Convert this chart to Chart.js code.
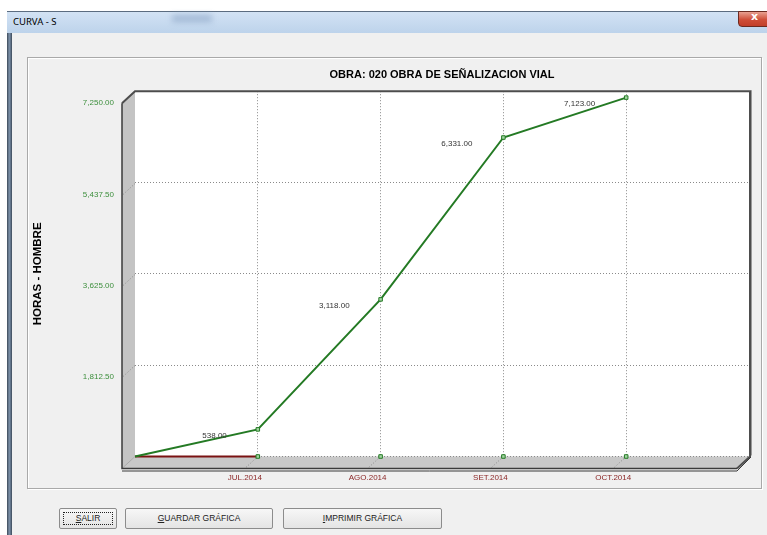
<!DOCTYPE html>
<html>
<head>
<meta charset="utf-8">
<title>CURVA - S</title>
<script src="https://cdn.jsdelivr.net/npm/chart.js@4.4.1/dist/chart.umd.min.js"></script>
<style>
  html, body { margin: 0; padding: 0; width: 767px; height: 535px; overflow: hidden; background: #ffffff; }
  #win { position: absolute; left: 7px; top: 11px; width: 780px; height: 540px; background: #f0f0f0; }
  #edgeLeft { position: absolute; left: 7px; top: 11px; width: 5px; height: 540px;
    background: linear-gradient(to right, #3b4857, #7d92aa 45%, #5d6f85 75%, #3b4857); }
  #titlebar { position: absolute; left: 7px; top: 11px; width: 780px; height: 22px; box-sizing: border-box;
    border-top: 1px solid #5b6c80; background: linear-gradient(#d2e2f4, #bdd3eb); }
  #smudge { position: absolute; left: 172px; top: 15px; width: 40px; height: 7px; background: #8fa8c8;
    filter: blur(3px); opacity: 0.7; }
  #titletext { position: absolute; left: 13px; top: 15px; font: 9.5px "Noto Sans", sans-serif; color: #000; line-height: 14px; }
  #close { position: absolute; left: 738px; top: 11px; width: 42px; height: 16px; box-sizing: border-box;
    border: 1px solid #6d2a20; border-radius: 0 0 4px 4px;
    background: linear-gradient(#e8a090, #cf4e38 55%, #c23f2a); }
  #closeX { position: absolute; left: 751px; top: 10px; font: bold 11px "DejaVu Sans", sans-serif; color: #fff; }
  #frame { position: absolute; left: 27px; top: 57px; width: 735px; height: 432px; box-sizing: border-box;
    border: 1px solid #a9a9a9; box-shadow: 1px 1px 0 #ffffff, inset 1px 1px 0 #ffffff; }
  #chartBox { position: absolute; left: 28px; top: 58px; width: 732px; height: 429px; }
  .btn { position: absolute; top: 508px; height: 21px; box-sizing: border-box; border: 1px solid #8c8c8c;
    border-radius: 2px; background: linear-gradient(#f7f7f7, #e4e4e4);
    font: 8.5px "Liberation Sans", Arial, sans-serif; color: #222; text-align: center; line-height: 19px; }
  .btn u { text-decoration: underline; }
  #focusRing { position: absolute; left: 3px; top: 3px; right: 3px; bottom: 3px; border: 1px dotted #222; }
</style>
</head>
<body>
<div id="win"></div>
<div id="edgeLeft"></div>
<div id="titlebar"></div>
<div id="smudge"></div>
<div id="titletext">CURVA - S</div>
<div id="close"></div>
<div id="closeX">x</div>
<div id="frame"></div>
<div id="chartBox"><canvas id="curva" width="732" height="429"></canvas></div>
<div class="btn" style="left:59px;width:58px;"><div id="focusRing"></div><u>S</u>ALIR</div>
<div class="btn" style="left:125px;width:148px;"><u>G</u>UARDAR GRÁFICA</div>
<div class="btn" style="left:283px;width:159px;"><u>I</u>MPRIMIR GRÁFICA</div>

<script>
// Periods on the horizontal axis (first and last slots are the axis ends)
const categories = ['', 'JUL.2014', 'AGO.2014', 'SET.2014', 'OCT.2014', ''];
// Accumulated man-hours per period
const horasAcumuladas = [0, 538, 3118, 6331, 7123];
// Zero baseline series
const lineaBase = [0, 0, 0, 0, 0];
// Value axis ticks
const yTicks = [0, 1812.5, 3625, 5437.5, 7250];

const FONT = '"Liberation Sans", Arial, sans-serif';
const DEPTH_X = 13, DEPTH_Y = 12;

function fmt(v) {
  const fixed = Math.abs(v).toFixed(2);
  const [ent, dec] = fixed.split('.');
  const withSep = ent.replace(/\B(?=(\d{3})+(?!\d))/g, ',');
  return (v < 0 ? '-' : '') + withSep + '.' + dec;
}

// Grey side wall, floor and frame of the 3D box
const box3d = {
  id: 'box3d',
  beforeDraw(chart) {
    const { ctx, chartArea: a } = chart;
    ctx.save();
    ctx.fillStyle = '#ffffff';
    ctx.fillRect(a.left, a.top, a.right - a.left, a.bottom - a.top);
    // left wall
    ctx.fillStyle = '#c4c4c4';
    ctx.beginPath();
    ctx.moveTo(a.left, a.top);
    ctx.lineTo(a.left - DEPTH_X, a.top + DEPTH_Y);
    ctx.lineTo(a.left - DEPTH_X, a.bottom + DEPTH_Y);
    ctx.lineTo(a.left, a.bottom);
    ctx.closePath();
    ctx.fill();
    // floor
    ctx.fillStyle = '#c8c8c8';
    ctx.beginPath();
    ctx.moveTo(a.left, a.bottom);
    ctx.lineTo(a.right, a.bottom);
    ctx.lineTo(a.right - DEPTH_X, a.bottom + DEPTH_Y);
    ctx.lineTo(a.left - DEPTH_X, a.bottom + DEPTH_Y);
    ctx.closePath();
    ctx.fill();
    ctx.restore();
  },
  beforeDatasetsDraw(chart) {
    const { ctx, chartArea: a, scales } = chart;
    ctx.save();
    // dotted extensions of the grid across wall and floor
    ctx.strokeStyle = '#8a8a8a';
    ctx.lineWidth = 1;
    ctx.setLineDash([1, 2]);
    yTicks.slice(1, -1).forEach(v => {
      const y = Math.round(scales.y.getPixelForValue(v)) + 0.5;
      ctx.beginPath();
      ctx.moveTo(a.left, y);
      ctx.lineTo(a.left - DEPTH_X, y + DEPTH_Y);
      ctx.stroke();
    });
    for (let i = 1; i < categories.length - 1; i++) {
      const x = scales.x.getPixelForValue(i);
      ctx.beginPath();
      ctx.moveTo(x, a.bottom);
      ctx.lineTo(x - DEPTH_X, a.bottom + DEPTH_Y);
      ctx.stroke();
    }
    ctx.setLineDash([]);
    // wall / floor seam
    ctx.strokeStyle = '#a8a8a8';
    ctx.beginPath();
    ctx.moveTo(a.left, a.bottom);
    ctx.lineTo(a.left - DEPTH_X, a.bottom + DEPTH_Y);
    ctx.stroke();
    // back wall top and right edges
    ctx.strokeStyle = '#4d4d4d';
    ctx.lineWidth = 2;
    ctx.beginPath();
    ctx.moveTo(a.left - DEPTH_X, a.top + DEPTH_Y);
    ctx.lineTo(a.left, a.top);
    ctx.lineTo(a.right + 1, a.top);
    ctx.lineTo(a.right + 1, a.bottom);
    ctx.lineTo(a.right + 1 - DEPTH_X, a.bottom + DEPTH_Y);
    ctx.stroke();
    ctx.strokeStyle = '#9a9a9a';
    ctx.lineWidth = 1;
    ctx.beginPath();
    ctx.moveTo(a.right + 2.5, a.top - 1);
    ctx.lineTo(a.right + 2.5, a.bottom - 1);
    ctx.stroke();
    // front edges
    ctx.strokeStyle = '#3a3a3a';
    ctx.lineWidth = 1.5;
    ctx.beginPath();
    ctx.moveTo(a.left - DEPTH_X, a.top + DEPTH_Y);
    ctx.lineTo(a.left - DEPTH_X, a.bottom + DEPTH_Y);
    ctx.lineTo(a.right + 1 - DEPTH_X, a.bottom + DEPTH_Y);
    ctx.stroke();
    ctx.lineWidth = 1;
    ctx.beginPath();
    ctx.moveTo(a.left - DEPTH_X, a.bottom + DEPTH_Y + 2.5);
    ctx.lineTo(a.right + 1 - DEPTH_X, a.bottom + DEPTH_Y + 2.5);
    ctx.lineTo(a.right + 2 , a.bottom + 0.5);
    ctx.stroke();
    ctx.restore();
  }
};

// Value labels beside each point of the accumulated curve
const valueLabels = {
  id: 'valueLabels',
  afterDatasetsDraw(chart) {
    const { ctx } = chart;
    const meta = chart.getDatasetMeta(0);
    ctx.save();
    ctx.font = '8px ' + FONT;
    ctx.fillStyle = '#333333';
    ctx.textAlign = 'right';
    ctx.textBaseline = 'middle';
    horasAcumuladas.forEach((v, i) => {
      if (i === 0) return;
      const p = meta.data[i];
      ctx.fillText(fmt(v), p.x - 31, p.y + 6.5);
    });
    ctx.restore();
  }
};

const markerRadius = ctx => (ctx.dataIndex === 0 ? 0 : 2.5);

new Chart(document.getElementById('curva'), {
  type: 'line',
  data: {
    labels: categories,
    datasets: [
      {
        label: 'Horas - Hombre',
        data: horasAcumuladas,
        borderColor: '#247a24',
        borderWidth: 2,
        tension: 0,
        pointStyle: 'rect',
        pointRadius: markerRadius,
        pointBorderColor: '#247a24',
        pointBackgroundColor: '#a3d6a3',
        pointBorderWidth: 1,
        clip: false
      },
      {
        label: 'Base',
        data: lineaBase,
        borderColor: '#7a1212',
        borderWidth: 2,
        tension: 0,
        segment: {
          borderColor: ctx => (ctx.p0DataIndex === 0 ? '#7a1212' : 'rgba(0,0,0,0)')
        },
        pointStyle: 'rect',
        pointRadius: markerRadius,
        pointBorderColor: '#247a24',
        pointBackgroundColor: '#a3d6a3',
        pointBorderWidth: 1,
        clip: false
      }
    ]
  },
  options: {
    responsive: false,
    animation: false,
    devicePixelRatio: 1,
    events: [],
    layout: { padding: { left: 0, top: 0, right: 11, bottom: 0 } },
    plugins: {
      legend: { display: false },
      tooltip: { enabled: false },
      title: {
        display: true,
        text: 'OBRA: 020 OBRA DE SEÑALIZACION VIAL',
        fullSize: false,
        color: '#000000',
        font: { family: FONT, size: 11, weight: 'bold', lineHeight: 1.2 },
        padding: { top: 10, bottom: 10 }
      }
    },
    scales: {
      x: {
        type: 'category',
        offset: false,
        border: { display: false, dash: [1, 2] },
        grid: {
          offset: false,
          drawTicks: true,
          tickLength: 16,
          tickColor: 'rgba(0,0,0,0)',
          color: ctx => (ctx.index === 0 || ctx.index === categories.length - 1 ? 'rgba(0,0,0,0)' : '#8a8a8a'),
          lineWidth: 1
        },
        ticks: {
          autoSkip: false,
          maxRotation: 0,
          padding: 0,
          labelOffset: -13,
          color: '#8b2626',
          font: { family: FONT, size: 8 }
        },
        afterFit(scale) { scale.height = 30.5; }
      },
      y: {
        min: 0,
        max: 7250,
        border: { display: false, dash: [1, 2] },
        afterBuildTicks(scale) { scale.ticks = yTicks.map(v => ({ value: v })); },
        grid: {
          drawTicks: false,
          color: ctx => (ctx.tick && ctx.tick.value === 7250 ? 'rgba(0,0,0,0)' : '#8a8a8a'),
          lineWidth: 1
        },
        ticks: {
          padding: 21,
          labelOffset: 12,
          color: '#3d8f3d',
          font: { family: FONT, size: 8 },
          callback: v => (v === 0 ? '' : fmt(v))
        },
        title: {
          display: true,
          text: 'HORAS - HOMBRE',
          color: '#000000',
          font: { family: FONT, size: 11.5, weight: 'bold', lineHeight: 1.2 },
          padding: { top: 3, bottom: 0 }
        },
        afterFit(scale) { scale.width = 107; }
      }
    }
  },
  plugins: [box3d, valueLabels]
});
</script>
</body>
</html>
